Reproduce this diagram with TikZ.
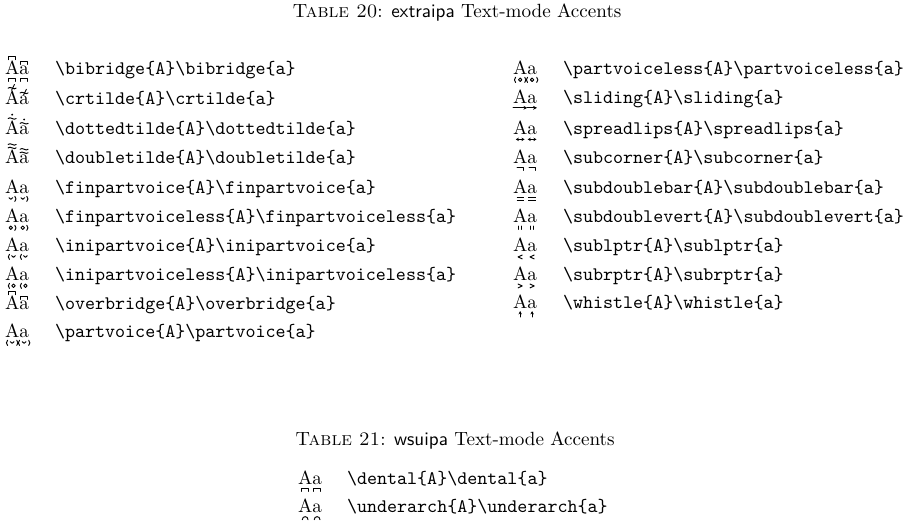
\documentclass[tikz,border=0pt]{standalone}
\usetikzlibrary{arrows.meta}
\tikzset{
  ltr/.style={inner sep=0pt,outer sep=0pt,anchor=base west},
  cmdtxt/.style={inner sep=0pt,outer sep=0pt,anchor=base west,font=\ttfamily},
  ttl/.style={inner sep=0pt,outer sep=0pt,anchor=base},
  acc/.style={line width=0.5pt,line cap=round,line join=round},
}
\newcommand\accTilde[1]{\draw[acc] (-2.1pt,#1) .. controls (-1pt,#1+1.3pt) and (1pt,#1-1.3pt) .. (2.1pt,#1);}
\newcommand\bridgeAbove{\draw[acc] (-1.8pt,\accT+1.2pt) -- (-1.8pt,\accT+2.7pt) -- (1.8pt,\accT+2.7pt) -- (1.8pt,\accT+1.2pt);}
\newcommand\bridgeBelow{\draw[acc] (-1.7pt,-3.4pt) -- (-1.7pt,-1.8pt) -- (1.7pt,-1.8pt) -- (1.7pt,-3.4pt);}
\newcommand\brv[1]{\draw[acc] (#1-1pt,-1.9pt) .. controls (#1-0.8pt,-3.1pt) and (#1+0.8pt,-3.1pt) .. (#1+1pt,-1.9pt);}
\newcommand\ring[1]{\draw[acc] (#1,-2.5pt) circle[radius=0.9pt];}
\newcommand\rpar[1]{\draw[acc] (#1,-1.2pt) .. controls (#1+0.8pt,-1.9pt) and (#1+0.8pt,-3.2pt) .. (#1,-3.9pt);}
\newcommand\lpar[1]{\draw[acc] (#1,-1.2pt) .. controls (#1-0.8pt,-1.9pt) and (#1-0.8pt,-3.2pt) .. (#1,-3.9pt);}
\newcommand\entry[6]{%
  \node[ltr] (A#1) at (#2,-#4) {A};
  \node[ltr] (a#1) at (A#1.base east) {a};
  \node[cmdtxt] (c#1) at (#3,-#4) {\textbackslash #5\{A\}\textbackslash #5\{a\}};
  \begin{scope}[shift={(A#1.base)}]\def\accT{6.83pt}\def\accW{7.5pt}#6\end{scope}
  \begin{scope}[shift={(a#1.base)}]\def\accT{4.31pt}\def\accW{5pt}#6\end{scope}}
\begin{document}
\begin{tikzpicture}[x=0.5235pt,y=0.5235pt]
\useasboundingbox (0,0) rectangle (914,-528);
\node[ttl] (t20) at (457,-18) {\textsc{Table 20}: \textsf{extraipa} Text-mode Accents};
% left column
\entry{1}{5}{55}{75}{bibridge}{\bridgeAbove\bridgeBelow}
\entry{2}{5}{55}{105}{crtilde}{\accTilde{\accT+2pt}\draw[acc] (-0.3pt,\accT+0.9pt) -- (1.2pt,\accT+3.9pt);}
\entry{3}{5}{55}{135}{dottedtilde}{\accTilde{\accT+1.8pt}\fill (0pt,\accT+3.8pt) circle[radius=0.55pt];}
\entry{4}{5}{55}{164}{doubletilde}{\accTilde{\accT+1.6pt}\accTilde{\accT+3.4pt}}
\entry{5}{5}{55}{194}{finpartvoice}{\brv{-0.7pt}\rpar{1.4pt}}
\entry{6}{5}{55}{223}{finpartvoiceless}{\ring{-0.7pt}\rpar{1.4pt}}
\entry{7}{5}{55}{252}{inipartvoice}{\lpar{-1.4pt}\brv{0.7pt}}
\entry{8}{5}{55}{281}{inipartvoiceless}{\lpar{-1.4pt}\ring{0.7pt}}
\entry{9}{5}{55}{310}{overbridge}{\bridgeAbove}
\entry{10}{5}{55}{338}{partvoice}{\lpar{-2.4pt}\brv{0pt}\rpar{2.4pt}}
% right column
\entry{11}{513}{563}{75}{partvoiceless}{\lpar{-2.4pt}\ring{0pt}\rpar{2.4pt}}
\entry{12}{513}{563}{104}{sliding}{\draw[acc,-{Stealth[length=2pt,width=2pt]}] (-\accW/2,-2pt) -- (\accW/2,-2pt);}
\entry{13}{513}{563}{135}{spreadlips}{\draw[acc,{Stealth[length=1.6pt,width=1.8pt]}-{Stealth[length=1.6pt,width=1.8pt]}] (-2.3pt,-2.3pt) -- (2.3pt,-2.3pt);}
\entry{14}{513}{563}{164}{subcorner}{\draw[acc] (-1.6pt,-1.8pt) -- (1.6pt,-1.8pt) -- (1.6pt,-3.4pt);}
\entry{15}{513}{563}{194}{subdoublebar}{\draw[acc,line width=0.8pt,line cap=butt] (-1.9pt,-1.9pt) -- (1.9pt,-1.9pt) (-1.9pt,-3.3pt) -- (1.9pt,-3.3pt);}
\entry{16}{513}{563}{223}{subdoublevert}{\draw[acc] (-0.65pt,-1.6pt) -- (-0.65pt,-3.4pt) (0.65pt,-1.6pt) -- (0.65pt,-3.4pt);}
\entry{17}{513}{563}{252}{sublptr}{\draw[acc] (1.1pt,-1.6pt) -- (-1.1pt,-2.6pt) -- (1.1pt,-3.6pt);}
\entry{18}{513}{563}{281}{subrptr}{\draw[acc] (-1.1pt,-1.6pt) -- (1.1pt,-2.6pt) -- (-1.1pt,-3.6pt);}
\entry{19}{513}{563}{309}{whistle}{\draw[acc,-{Stealth[length=1.7pt,width=1.8pt]}] (0pt,-4.2pt) -- (0pt,-1.1pt);}
% table 21
\node[ttl] (t21) at (455,-446) {\textsc{Table 21}: \textsf{wsuipa} Text-mode Accents};
\entry{20}{298}{347}{485}{dental}{\bridgeBelow}
\entry{21}{298}{347}{513}{underarch}{\draw[acc] (-1.5pt,-3.5pt) .. controls (-1.5pt,-1.4pt) and (1.5pt,-1.4pt) .. (1.5pt,-3.5pt);}
\end{tikzpicture}
\end{document}
